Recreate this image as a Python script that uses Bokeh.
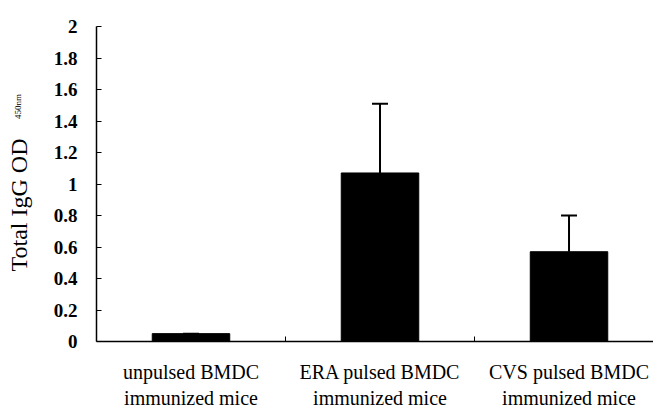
from bokeh.plotting import figure
from bokeh.models import Range1d, FixedTicker, Whisker, ColumnDataSource, TeeHead, LinearAxis
from bokeh.embed import file_html
from bokeh.resources import INLINE

# ---- data ----
categories = ["unpulsed BMDC\nimmunized mice",
              "ERA pulsed BMDC\nimmunized mice",
              "CVS pulsed BMDC\nimmunized mice"]
igg_od = [0.05, 1.07, 0.57]
igg_err = [0.0, 0.44, 0.23]
y_ticks = [0, 0.2, 0.4, 0.6, 0.8, 1, 1.2, 1.4, 1.6, 1.8, 2]
y_tick_labels = ["0", "0.2", "0.4", "0.6", "0.8", "1", "1.2", "1.4", "1.6", "1.8", "2"]
y_title = "Total IgG OD"
y_title_sub = "450nm"

FONT = "Liberation Serif"
NBSP = "\u00a0"

xs = [i + 0.5 for i in range(len(categories))]
bounds = [i for i in range(1, len(categories))]
uppers = [v + e for v, e in zip(igg_od, igg_err)]

p = figure(width=653, height=413, output_backend="svg", toolbar_location=None,
           x_range=Range1d(0, 2.947), y_range=Range1d(0, 2),
           min_border_left=96, min_border_right=0, min_border_top=26, min_border_bottom=72)
p.outline_line_color = None
p.xgrid.visible = False
p.ygrid.visible = False
p.background_fill_color = "white"
p.border_fill_color = "white"

src = ColumnDataSource(dict(x=xs, top=igg_od, upper=uppers))
p.vbar(x="x", top="top", width=0.41, source=src, fill_color="black", line_color="black")

w = Whisker(base="x", lower="top", upper="upper", source=src, line_color="black", line_width=2,
            lower_head=None, upper_head=TeeHead(size=16, line_color="black", line_width=2))
p.add_layout(w)

# x axis
xa = p.xaxis[0]
xa.ticker = FixedTicker(ticks=xs, minor_ticks=bounds)
xa.major_label_overrides = {x: c for x, c in zip(xs, categories)}
xa.major_tick_in = 0
xa.major_tick_out = 0
xa.minor_tick_in = 5
xa.minor_tick_out = 0
xa.minor_tick_line_color = "black"
xa.axis_line_color = "black"
xa.axis_line_width = 1.5
xa.major_label_standoff = 19
xa.major_label_text_font = FONT
xa.major_label_text_font_size = "20px"
xa.major_label_text_color = "black"

# y axis
ya = p.yaxis[0]
ya.ticker = FixedTicker(ticks=y_ticks)
ya.major_label_overrides = {t: l for t, l in zip(y_ticks, y_tick_labels)}
ya.minor_tick_line_color = None
ya.major_tick_in = 5
ya.major_tick_out = 0
ya.major_tick_line_color = "black"
ya.axis_line_color = "black"
ya.axis_line_width = 1.5
ya.major_label_standoff = 19
ya.major_label_text_font = FONT
ya.major_label_text_font_size = "19px"
ya.major_label_text_font_style = "bold"
ya.major_label_text_color = "black"
ya.axis_label = y_title + NBSP * 7
ya.axis_label_standoff = 19
ya.axis_label_text_font = FONT
ya.axis_label_text_font_size = "24px"
ya.axis_label_text_font_style = "normal"
ya.axis_label_text_color = "black"

# subscript of the y title, on an extra label-only axis
sub_axis = LinearAxis(ticker=FixedTicker(ticks=[]), axis_line_color=None,
                      major_tick_line_color=None, minor_tick_line_color=None,
                      major_label_text_font_size="0px", major_label_standoff=0,
                      axis_label=NBSP * 69 + y_title_sub, axis_label_standoff=-20,
                      axis_label_text_font=FONT, axis_label_text_font_size="9px",
                      axis_label_text_font_style="normal", axis_label_text_color="black")
p.add_layout(sub_axis, "left")

open("out.html", "w").write(file_html(p, INLINE))
